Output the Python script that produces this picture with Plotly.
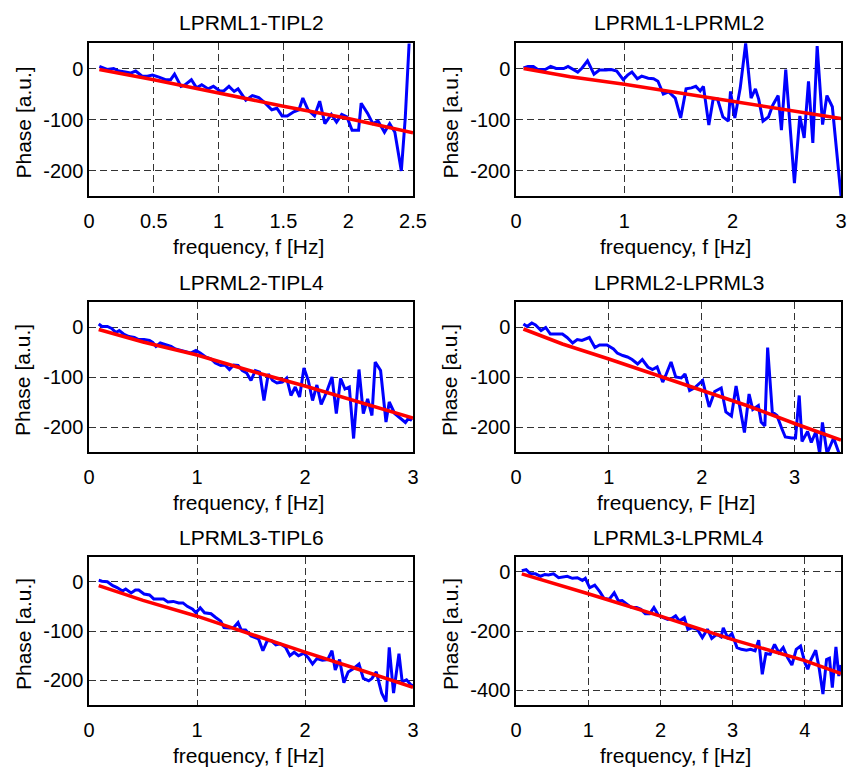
import plotly.graph_objects as go

# ---------------- data ----------------
TITLES = ["LPRML1-TIPL2", "LPRML1-LPRML2", "LPRML2-TIPL4",
          "LPRML2-LPRML3", "LPRML3-TIPL6", "LPRML3-LPRML4"]
XLABELS = ["frequency, f [Hz]", "frequency, f [Hz]", "frequency, f [Hz]",
           "frequency, F [Hz]", "frequency, f [Hz]", "frequency, f [Hz]"]
YLABEL = "Phase [a.u.]"

# panel 1: LPRML1-TIPL2
f1 = [0.08, 0.14, 0.19, 0.23, 0.28, 0.32, 0.36, 0.41, 0.45, 0.49, 0.54, 0.59, 0.63, 0.66,
      0.71, 0.74, 0.79, 0.83, 0.87, 0.92, 0.96, 1.01, 1.04, 1.08, 1.12, 1.15, 1.21, 1.26,
      1.31, 1.36, 1.41, 1.45, 1.49, 1.53, 1.58, 1.62, 1.65, 1.69, 1.74, 1.78, 1.82, 1.87,
      1.91, 1.95, 1.99, 2.03, 2.08, 2.10, 2.15, 2.19, 2.23, 2.28, 2.32, 2.36, 2.41, 2.44, 2.47]
p1 = [4, -2, 0, -5, -7, -9, -5, -15, -15, -13, -17, -22, -22, -11,
      -35, -32, -22, -38, -32, -40, -35, -44, -44, -35, -45, -40, -62, -53,
      -57, -68, -81, -78, -93, -93, -85, -81, -58, -81, -93, -64, -108, -90,
      -105, -90, -95, -121, -121, -68, -88, -108, -103, -125, -108, -125, -201, -98, 49]
fit_f1 = [0.08, 0.5, 1.0, 1.5, 2.0, 2.5]
fit_p1 = [-2, -22, -48, -74, -98, -126]

# panel 2: LPRML1-LPRML2
f2 = [0.07, 0.11, 0.16, 0.20, 0.27, 0.32, 0.37, 0.44, 0.48, 0.53, 0.57, 0.61, 0.66, 0.72,
      0.77, 0.83, 0.88, 0.93, 0.99, 1.03, 1.07, 1.12, 1.16, 1.22, 1.27, 1.31, 1.36, 1.41,
      1.47, 1.52, 1.57, 1.62, 1.66, 1.70, 1.73, 1.78, 1.82, 1.86, 1.91, 1.96, 1.98, 2.02,
      2.07, 2.12, 2.17, 2.21, 2.24, 2.28, 2.33, 2.37, 2.42, 2.45, 2.49, 2.57, 2.62, 2.66,
      2.70, 2.74, 2.78, 2.83, 2.87, 2.92, 3.00]
p2 = [1, 4, 4, -2, -2, 4, 0, 0, 4, -2, -7, 1, 15, -11,
      -3, -3, -2, -5, -22, -13, -7, -20, -15, -19, -20, -25, -50, -46,
      -58, -97, -40, -38, -35, -44, -35, -111, -60, -60, -95, -103, -45, -97,
      -38, 49, -58, -40, -60, -103, -95, -72, -53, -121, -2, -225, -93, -136,
      -25, -146, 44, -110, -53, -75, -250]
fit_f2 = [0.07, 0.5, 1.0, 1.5, 2.0, 2.5, 3.0]
fit_p2 = [0, -16, -31, -48, -65, -81, -98]

# panel 3: LPRML2-TIPL4
f3 = [0.09, 0.12, 0.17, 0.21, 0.25, 0.28, 0.32, 0.37, 0.42, 0.46, 0.51, 0.56, 0.59, 0.62,
      0.66, 0.71, 0.76, 0.80, 0.85, 0.90, 0.94, 0.99, 1.03, 1.08, 1.13, 1.17, 1.22, 1.26,
      1.30, 1.34, 1.38, 1.42, 1.46, 1.50, 1.54, 1.58, 1.62, 1.66, 1.70, 1.74, 1.79, 1.83,
      1.87, 1.91, 1.95, 1.99, 2.03, 2.07, 2.11, 2.15, 2.20, 2.25, 2.29, 2.33, 2.37, 2.41,
      2.45, 2.50, 2.54, 2.58, 2.62, 2.65, 2.70, 2.75, 2.78, 2.83, 2.89, 2.93, 2.96, 2.99]
p3 = [6, 1, 1, -3, -11, -7, -14, -19, -21, -25, -25, -27, -31, -39,
      -32, -36, -39, -44, -47, -49, -52, -47, -52, -60, -64, -72, -77, -76,
      -85, -76, -77, -87, -92, -107, -87, -90, -147, -94, -107, -112, -110, -102,
      -137, -120, -140, -82, -107, -147, -116, -155, -130, -100, -173, -103, -124, -120,
      -223, -85, -173, -144, -177, -70, -87, -190, -150, -173, -185, -191, -182, -187]
fit_f3 = [0.09, 0.5, 1.0, 1.5, 2.0, 2.5, 3.0]
fit_p3 = [-5, -30, -56, -88, -118, -150, -182]

# panel 4: LPRML2-LPRML3
f4 = [0.08, 0.12, 0.17, 0.21, 0.27, 0.32, 0.37, 0.43, 0.50, 0.55, 0.61, 0.66, 0.71, 0.79,
      0.85, 0.90, 0.98, 1.05, 1.09, 1.15, 1.20, 1.25, 1.31, 1.36, 1.42, 1.47, 1.52, 1.58,
      1.61, 1.67, 1.72, 1.78, 1.82, 1.87, 1.92, 2.01, 2.08, 2.14, 2.21, 2.26, 2.32, 2.37,
      2.46, 2.51, 2.55, 2.61, 2.64, 2.68, 2.71, 2.76, 2.81, 2.86, 2.90, 2.97, 3.01, 3.05,
      3.08, 3.14, 3.18, 3.23, 3.27, 3.30, 3.35, 3.42, 3.48]
p4 = [6, 1, 8, 4, -7, -1, -14, -14, -14, -21, -32, -25, -27, -21,
      -41, -36, -36, -44, -52, -57, -60, -65, -74, -65, -80, -85, -80, -110,
      -98, -70, -100, -102, -94, -127, -122, -107, -160, -129, -122, -170, -178, -118,
      -211, -134, -165, -157, -190, -198, -41, -170, -177, -202, -220, -222, -222, -137,
      -229, -209, -231, -209, -253, -191, -253, -222, -253]
fit_f4 = [0.08, 0.5, 1.0, 1.5, 2.0, 2.5, 3.0, 3.5]
fit_p4 = [-4, -34, -64, -95, -126, -158, -193, -226]

# panel 5: LPRML3-TIPL6
f5 = [0.09, 0.12, 0.17, 0.22, 0.26, 0.31, 0.34, 0.39, 0.43, 0.46, 0.51, 0.56, 0.60, 0.65,
      0.69, 0.73, 0.78, 0.83, 0.87, 0.91, 0.96, 0.99, 1.03, 1.07, 1.13, 1.17, 1.22, 1.25,
      1.30, 1.34, 1.38, 1.41, 1.45, 1.50, 1.54, 1.57, 1.61, 1.65, 1.69, 1.73, 1.77, 1.82,
      1.86, 1.90, 1.94, 1.99, 2.03, 2.07, 2.11, 2.16, 2.21, 2.25, 2.28, 2.32, 2.36, 2.40,
      2.45, 2.50, 2.54, 2.59, 2.62, 2.66, 2.71, 2.75, 2.78, 2.82, 2.87, 2.90, 2.94, 2.98, 3.00]
p5 = [3, 1, 0, -8, -12, -19, -15, -23, -17, -17, -25, -27, -35, -35,
      -35, -41, -40, -43, -43, -50, -56, -63, -53, -63, -65, -72, -80, -93,
      -94, -93, -83, -98, -98, -110, -113, -116, -140, -120, -120, -128, -126, -133,
      -150, -143, -150, -145, -154, -167, -156, -159, -158, -140, -179, -158, -205, -183,
      -176, -167, -196, -201, -196, -183, -226, -243, -133, -226, -146, -203, -199, -209, -211]
fit_f5 = [0.09, 0.5, 1.0, 1.5, 2.0, 2.5, 3.0]
fit_p5 = [-8, -38, -70, -107, -143, -178, -214]

# panel 6: LPRML3-LPRML4
f6 = [0.08, 0.14, 0.20, 0.27, 0.34, 0.40, 0.45, 0.52, 0.59, 0.66, 0.71, 0.78, 0.85, 0.92,
      0.96, 1.02, 1.09, 1.16, 1.22, 1.29, 1.36, 1.42, 1.47, 1.54, 1.60, 1.67, 1.73, 1.79,
      1.85, 1.91, 1.97, 2.04, 2.10, 2.16, 2.21, 2.26, 2.33, 2.38, 2.44, 2.51, 2.58, 2.65,
      2.71, 2.78, 2.84, 2.87, 2.93, 2.99, 3.06, 3.12, 3.19, 3.25, 3.31, 3.36, 3.41, 3.46,
      3.52, 3.58, 3.64, 3.70, 3.76, 3.82, 3.88, 3.94, 4.00, 4.04, 4.08, 4.15, 4.20, 4.25,
      4.30, 4.34, 4.38, 4.43, 4.47, 4.50]
p6 = [4, 7, -7, -7, -15, -9, -11, -7, -20, -18, -15, -22, -20, -29,
      -22, -54, -45, -67, -90, -93, -71, -99, -97, -110, -121, -121, -127, -142,
      -142, -121, -146, -155, -161, -157, -149, -166, -155, -194, -189, -194, -222, -194,
      -225, -211, -220, -189, -222, -209, -256, -262, -265, -262, -267, -231, -346, -276,
      -279, -245, -273, -256, -290, -315, -262, -251, -307, -329, -299, -265, -329, -413,
      -296, -292, -391, -254, -352, -315]
fit_f6 = [0.08, 1.0, 2.0, 3.0, 4.0, 4.5]
fit_p6 = [-7, -74, -150, -229, -300, -344]

X_RANGES = [[0, 2.5], [0, 3], [0, 3], [0, 3.5], [0, 3], [0, 4.5]]
Y_RANGES = [[-250, 50], [-250, 50], [-250, 50], [-250, 50], [-250, 50], [-450, 50]]
X_TICKS = [[0, 0.5, 1, 1.5, 2, 2.5], [0, 1, 2, 3], [0, 1, 2, 3],
           [0, 1, 2, 3], [0, 1, 2, 3], [0, 1, 2, 3, 4]]
X_TICK_TEXT = [["0", "0.5", "1", "1.5", "2", "2.5"], ["0", "1", "2", "3"], ["0", "1", "2", "3"],
               ["0", "1", "2", "3"], ["0", "1", "2", "3"], ["0", "1", "2", "3", "4"]]
Y_TICKS = [[-200, -100, 0]] * 5 + [[-400, -200, 0]]
Y_TICK_TEXT = [["-200", "-100", "0"]] * 5 + [["-400", "-200", "0"]]

MEAS = [(f1, p1), (f2, p2), (f3, p3), (f4, p4), (f5, p5), (f6, p6)]
FITS = [(fit_f1, fit_p1), (fit_f2, fit_p2), (fit_f3, fit_p3),
        (fit_f4, fit_p4), (fit_f5, fit_p5), (fit_f6, fit_p6)]

# ---------------- layout (pixel boxes in the 853x770 page) ----------------
W, H = 853, 770
COLS = [(89, 413), (516, 841)]
ROWS = [(43, 196), (302, 452), (557, 705)]
FONT = "Liberation Sans, Arial, sans-serif"


def px(x):
    return x / W


def py(y):
    return 1 - y / H


fig = go.Figure()
layout = dict(
    template="none",
    width=W, height=H, margin=dict(l=0, r=0, t=0, b=0, pad=0, autoexpand=False),
    paper_bgcolor="white", plot_bgcolor="white", showlegend=False,
    font=dict(family=FONT, size=20, color="black"),
)
annotations = []

for i in range(6):
    r, c = divmod(i, 2)
    (x0, x1), (y0, y1) = COLS[c], ROWS[r]
    xa = "xaxis" if i == 0 else f"xaxis{i + 1}"
    ya = "yaxis" if i == 0 else f"yaxis{i + 1}"
    xr = "x" if i == 0 else f"x{i + 1}"
    yr = "y" if i == 0 else f"y{i + 1}"

    fx, fy = MEAS[i]
    fig.add_trace(go.Scatter(x=fx, y=fy, mode="lines", xaxis=xr, yaxis=yr,
                             line=dict(color="#0000ff", width=3)))
    gx, gy = FITS[i]
    fig.add_trace(go.Scatter(x=gx, y=gy, mode="lines", xaxis=xr, yaxis=yr,
                             line=dict(color="#ff0000", width=3.5)))

    common = dict(showline=True, linecolor="black", linewidth=1.5, mirror=True,
                  showgrid=True, gridcolor="#333333", gridwidth=1, griddash="7px,4px",
                  zeroline=False, ticks="", automargin=False,
                  tickfont=dict(family=FONT, size=20, color="black"), fixedrange=True)
    layout[xa] = dict(domain=[px(x0), px(x1)], range=X_RANGES[i], anchor=yr,
                      tickvals=X_TICKS[i], ticktext=X_TICK_TEXT[i],
                      ticklabelstandoff=6, **common)
    layout[ya] = dict(domain=[py(y1), py(y0)], range=Y_RANGES[i], anchor=xr,
                      tickvals=Y_TICKS[i], ticktext=Y_TICK_TEXT[i],
                      ticklabelstandoff=0, **common)

    cx = (x0 + x1) / 2
    annotations.append(dict(text=TITLES[i], x=px(cx), y=py(y0 - 20), xref="paper", yref="paper",
                            xanchor="center", yanchor="middle", showarrow=False,
                            font=dict(family=FONT, size=21, color="black")))
    annotations.append(dict(text=XLABELS[i], x=px(cx - 3), y=py(y1 + 50), xref="paper",
                            yref="paper", xanchor="center", yanchor="middle", showarrow=False,
                            font=dict(family=FONT, size=21, color="black")))
    annotations.append(dict(text=YLABEL, x=px(x0 - 66), y=py((y0 + y1) / 2 + 3), xref="paper",
                            yref="paper", xanchor="center", yanchor="middle", showarrow=False,
                            textangle=-90, font=dict(family=FONT, size=21, color="black")))

layout["annotations"] = annotations
fig.update_layout(**layout)

# remove the default 8px page margin so the 853x770 figure fills the window exactly
POST = "document.body.style.margin='0';document.body.style.overflow='hidden';"
fig.write_html("out.html", config={"displayModeBar": False}, post_script=POST)
